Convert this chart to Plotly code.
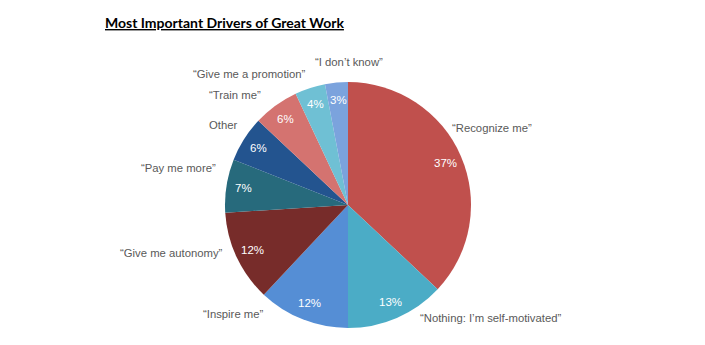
import math
import plotly.graph_objects as go

# Survey answers, clockwise from 12 o'clock
categories = [
    "“Recognize me”",
    "“Nothing: I’m self-motivated”",
    "“Inspire me”",
    "“Give me autonomy”",
    "“Pay me more”",
    "Other",
    "“Train me”",
    "“Give me a promotion”",
    "“I don’t know”",
]
shares = [37, 13, 12, 12, 7, 6, 6, 4, 3]
colors = ["#C0504D", "#4BACC6", "#558ED5", "#772C2A", "#276A7C",
          "#23548F", "#D47370", "#6FC0D4", "#7BA3DD"]

W, H = 705, 345
CX, CY, R = 348, 205, 123  # pie centre and radius in pixels

# category label anchors in pixels: (x, y, horizontal anchor)
label_xy = [(450, 128, "left"), (418, 318, "left"), (266, 314, "right"),
            (225, 253, "right"), (218, 168, "right"), (239, 125, "right"),
            (263, 95, "right"), (308, 74, "right"), (349, 62, "center")]

fig = go.Figure(go.Pie(
    labels=categories,
    values=shares,
    sort=False,
    direction="clockwise",
    rotation=0,
    marker=dict(colors=colors, line=dict(width=0)),
    textinfo="none",
    hoverinfo="label+value",
    showlegend=False,
    domain=dict(x=[(CX - R) / W, (CX + R) / W],
                y=[(H - CY - R) / H, (H - CY + R) / H]),
))

annotations = []
# percentage labels inside each slice, placed from the cumulative shares
total = sum(shares)
cum = 0
for v in shares:
    mid = (cum + v / 2) / total * 2 * math.pi
    cum += v
    px = CX + 0.86 * R * math.sin(mid)
    py = CY - 0.86 * R * math.cos(mid)
    annotations.append(dict(
        x=px / W, y=1 - py / H, xref="paper", yref="paper",
        text=f"{v}%", showarrow=False, xanchor="center", yanchor="middle",
        font=dict(family="Liberation Sans, Arial", size=11.5, color="white"),
    ))

for name, (lx, ly, anchor) in zip(categories, label_xy):
    annotations.append(dict(
        x=lx / W, y=1 - ly / H, xref="paper", yref="paper",
        text=name, showarrow=False, xanchor=anchor, yanchor="middle",
        font=dict(family="Liberation Sans, Arial", size=11.3, color="#595959"),
    ))

annotations.append(dict(
    x=103 / W, y=1 - 22 / H, xref="paper", yref="paper",
    text="<b><u>Most Important Drivers of Great Work</u></b>",
    showarrow=False, xanchor="left", yanchor="middle",
    font=dict(family="Lato, Carlito, Calibri", size=14, color="black"),
))

fig.update_layout(
    width=W, height=H,
    margin=dict(l=0, r=0, t=0, b=0),
    paper_bgcolor="white", plot_bgcolor="white",
    annotations=annotations,
)

fig.write_html("out.html")
